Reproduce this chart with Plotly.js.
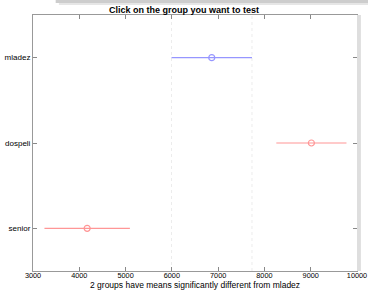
<!DOCTYPE html>
<html>
<head>
<meta charset="utf-8">
<script src="https://cdn.plot.ly/plotly-3.0.1.min.js"></script>
<style>html,body{margin:0;padding:0;background:#fff;}#chart{width:368px;height:290px;}</style>
</head>
<body>
<div id="chart"></div>
<script>
// Data
const groups = ["senior", "dospeli", "mladez"];
const means = [4170, 9015, 6862];
const halfWidths = [923, 758, 869];
const colors = ["rgb(255,150,150)", "rgb(255,150,150)", "rgb(150,150,255)"];
const xTicks = [3000, 4000, 5000, 6000, 7000, 8000, 9000, 10000];
const selected = "mladez";
const xTitle = "2 groups have means significantly different from mladez";

const traces = groups.map((g, i) => ({
  type: "scatter",
  mode: "markers",
  x: [means[i]],
  y: [g],
  marker: {symbol: "circle-open", size: 6, color: colors[i], line: {width: 1.2, color: colors[i]}},
  error_x: {type: "data", symmetric: true, array: [halfWidths[i]], width: 0, thickness: 1.2, color: colors[i]},
  hoverinfo: "skip",
  showlegend: false
}));

const si = groups.indexOf(selected);
const lo = means[si] - halfWidths[si];
const hi = means[si] + halfWidths[si];

const shapes = [lo, hi].map(v => ({
  type: "line", xref: "x", yref: "paper", x0: v, x1: v, y0: 0, y1: 1,
  line: {color: "rgb(236,236,236)", width: 1, dash: "dot"}, layer: "below"
}));
// window shadow decoration
shapes.push({type: "rect", xref: "paper", yref: "paper", x0: 0.07, x1: 1.1, y0: 1.047, y1: 1.1,
  fillcolor: "rgb(205,205,205)", line: {width: 0}});
shapes.push({type: "rect", xref: "paper", yref: "paper", x0: 0.08, x1: 1.1, y0: 1.039, y1: 1.047,
  fillcolor: "rgb(230,230,230)", line: {width: 0}});
shapes.push({type: "rect", xref: "paper", yref: "paper", x0: 1.0, x1: 1.012, y0: 0, y1: 1,
  fillcolor: "rgb(222,222,222)", line: {width: 0}});

const layout = {
  width: 368, height: 290,
  margin: {l: 33, r: 11, t: 15, b: 19},
  paper_bgcolor: "#fff", plot_bgcolor: "#fff",
  font: {family: "Liberation Sans, Arial, sans-serif", size: 8, color: "#000"},
  title: {text: "<b>Click on the group you want to test</b>", font: {size: 9, color: "#000"}, x: 0.5, xanchor: "center", y: 0.967, yanchor: "middle"},
  xaxis: {
    range: [2999.5, 10000.5], tickvals: xTicks, ticktext: xTicks.map(String),
    ticks: "inside", ticklen: 4, tickcolor: "#888", showgrid: false, zeroline: false,
    showline: true, linecolor: "#999", linewidth: 1, mirror: "ticks",
    tickfont: {size: 7.3}, ticklabelstandoff: -3, ticklabeloverflow: "allow"
  },
  yaxis: {
    type: "category", categoryorder: "array", categoryarray: groups, range: [-0.5, 2.5],
    ticks: "inside", ticklen: 4, tickcolor: "#888", showgrid: false, zeroline: false,
    showline: true, linecolor: "#999", linewidth: 1, mirror: "ticks",
    tickfont: {size: 8}
  },
  annotations: [{
    text: xTitle, xref: "paper", yref: "paper", x: 0.5, y: 0, xanchor: "center", yanchor: "top",
    yshift: -8, showarrow: false, borderpad: 0, font: {size: 8.5, color: "#000"}
  }],
  shapes: shapes
};

Plotly.newPlot("chart", traces, layout, {displayModeBar: false, staticPlot: true});
</script>
</body>
</html>
